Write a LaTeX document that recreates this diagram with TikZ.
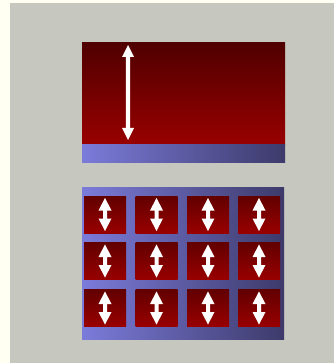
\documentclass[tikz,border=0pt]{standalone}
\usetikzlibrary{shadings}
\definecolor{paper}{HTML}{FFFFF2}
\definecolor{panelgray}{HTML}{C6C7BE}
\definecolor{redtop}{HTML}{500000}
\definecolor{redbot}{HTML}{990000}
\definecolor{celltop}{HTML}{620000}
\definecolor{blueleft}{HTML}{7B7BDA}
\definecolor{bluemid}{HTML}{6F6FC4}
\definecolor{blueright}{HTML}{3D3A6A}
\tikzset{
  redfill/.style={top color=redtop, bottom color=redbot, draw=none},
  bluefill/.style={left color=blueleft, middle color=bluemid, right color=blueright, draw=none},
  cellbox/.style={rectangle, inner sep=0pt, minimum width=42pt, minimum height=37pt,
                  top color=celltop, bottom color=redbot, draw=none},
  % double-headed arrow: length, head half-width, head length, shaft half-width
  pics/dblarrow/.style n args={4}{code={
    \fill[white] (0,{-#1/2}) -- (#2,{-#1/2+#3}) -- (#4,{-#1/2+#3}) -- (#4,{#1/2-#3})
      -- (#2,{#1/2-#3}) -- (0,{#1/2}) -- (-#2,{#1/2-#3}) -- (-#4,{#1/2-#3})
      -- (-#4,{-#1/2+#3}) -- (-#2,{-#1/2+#3}) -- cycle;
  }}
}
\begin{document}
\begin{tikzpicture}[x=1pt,y=-1pt]
  \useasboundingbox (0,0) rectangle (334,363);
  \fill[paper] (0,0) rectangle (334,363);
  \fill[panelgray] (10,3) rectangle (334,363);

  % upper block: red field over a blue bar
  \path[redfill] (82,43) rectangle (285,145);
  \path[bluefill] (82,145) rectangle (285,163);
  \coordinate (bigc) at (128,92.5);
  \pic at (bigc) {dblarrow={95}{6}{12}{2.2}};

  % lower block: blue plate carrying a 4x3 grid of red cells
  \path[bluefill] (82,187) rectangle (284,339);
  \foreach \cx [count=\i] in {105,156.5,208,259}{
    \foreach \cy [count=\j] in {214.5,261,308}{
      \node[cellbox] (c\i\j) at (\cx,\cy) {};
      \pic at (c\i\j.center) {dblarrow={33}{6.5}{12.5}{2}};
    }
  }
\end{tikzpicture}
\end{document}
